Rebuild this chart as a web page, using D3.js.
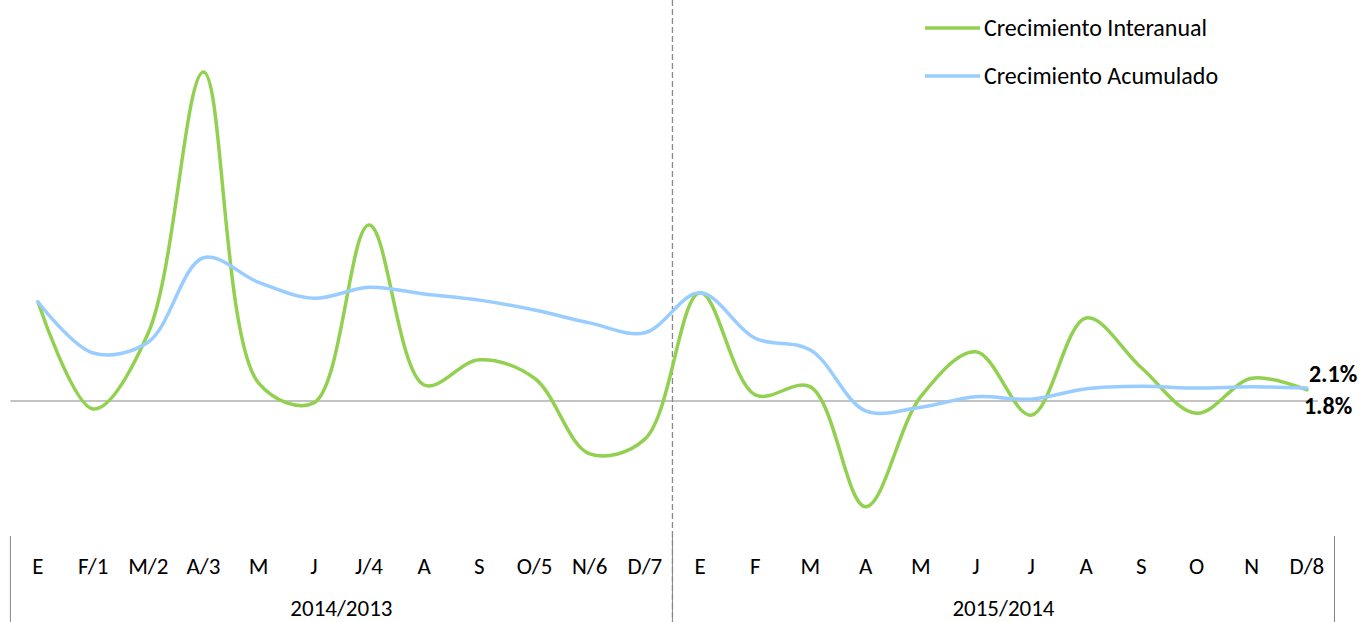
<!DOCTYPE html>
<html>
<head>
<meta charset="utf-8">
<script src="https://cdn.jsdelivr.net/npm/d3@7"></script>
<style>
    body { margin: 0; background: #fff; }
    svg text { font-family: Carlito, "Open Sans", sans-serif; fill: #000; }
</style>
</head>
<body>
<div id="chart"></div>
<script>
// Month labels for the two years
const categories = ["E", "F/1", "M/2", "A/3", "M", "J", "J/4", "A", "S", "O/5", "N/6", "D/7",
                    "E", "F", "M", "A", "M", "J", "J", "A", "S", "O", "N", "D/8"];
const groups = ["2014/2013", "2015/2014"];

// Growth rates (%)
const interanual = [16.1, -1.3, 11.1, 53.5, 2.9, -0.3, 28.6, 2.6, 6.7, 3.7, -8.6, -6.2,
                    17.6, 1.0, 2.3, -17.2, 0.7, 8.0, -2.3, 13.5, 5.4, -2.0, 3.7, 1.8];
const acumulado = [16.1, 7.8, 9.6, 23.3, 19.3, 16.7, 18.5, 17.4, 16.4, 14.8, 12.7, 11.1,
                   17.6, 10.2, 8.3, -1.6, -1.0, 0.7, 0.3, 2.0, 2.4, 2.1, 2.3, 2.1];

const seriesNames = ["Crecimiento Interanual", "Crecimiento Acumulado"];
const seriesColors = ["#92D050", "#99CCFF"];

const width = 1359, height = 622;

const svg = d3.select("#chart")
    .append("svg")
    .attr("width", width)
    .attr("height", height);

// Scales
const x = d3.scaleBand()
    .domain(d3.range(categories.length))
    .range([10.4, 1334.5]);
const cx = i => x(i) + x.bandwidth() / 2;

const y = d3.scaleLinear()
    .domain([-20, 60])
    .range([524, 32]);

// Zero line
svg.append("line")
    .attr("x1", 10.4)
    .attr("x2", 1318)
    .attr("y1", y(0))
    .attr("y2", y(0))
    .attr("stroke", "#888")
    .attr("stroke-width", 1.2);

// Year divider (dashed)
const split = x(12);
svg.append("line")
    .attr("x1", split)
    .attr("x2", split)
    .attr("y1", 0)
    .attr("y2", height)
    .attr("stroke", "#888")
    .attr("stroke-width", 1.3)
    .attr("stroke-dasharray", "6,3");

// Group separators under the axis
[x(0), split, x(23) + x.bandwidth()].forEach(px => {
    svg.append("line")
        .attr("x1", px)
        .attr("x2", px)
        .attr("y1", 536)
        .attr("y2", height)
        .attr("stroke", "#888")
        .attr("stroke-width", 1);
});

// Category labels
svg.append("g")
    .selectAll("text")
    .data(categories)
    .join("text")
    .attr("x", (d, i) => cx(i))
    .attr("y", 574)
    .attr("text-anchor", "middle")
    .attr("font-size", 23)
    .text(d => d);

// Group labels
svg.append("g")
    .selectAll("text")
    .data(groups)
    .join("text")
    .attr("x", (d, i) => (x(i * 12) + x(i * 12 + 11) + x.bandwidth()) / 2)
    .attr("y", 616)
    .attr("text-anchor", "middle")
    .attr("font-size", 23)
    .text(d => d);

// Lines (smoothed like the spreadsheet chart)
const line = d3.line()
    .x((d, i) => cx(i))
    .y(d => y(d))
    .curve(d3.curveCatmullRom.alpha(0.5));

[interanual, acumulado].forEach((values, k) => {
    svg.append("path")
        .datum(values)
        .attr("fill", "none")
        .attr("stroke", seriesColors[k])
        .attr("stroke-width", 3.5)
        .attr("stroke-linecap", "round")
        .attr("d", line);
});

// End labels
const last = categories.length - 1;
svg.append("text")
    .attr("x", cx(last) + 2)
    .attr("y", 382)
    .attr("font-size", 24)
    .attr("font-weight", "bold")
    .text(acumulado[last].toFixed(1) + "%");

svg.append("text")
    .attr("x", cx(last) - 3)
    .attr("y", 414)
    .attr("font-size", 24)
    .attr("font-weight", "bold")
    .text(interanual[last].toFixed(1) + "%");

// Legend
const legend = svg.append("g")
    .selectAll("g")
    .data(seriesNames)
    .join("g")
    .attr("transform", (d, i) => `translate(925, ${28 + i * 48})`);

legend.append("line")
    .attr("x1", 0)
    .attr("x2", 55)
    .attr("stroke", (d, i) => seriesColors[i])
    .attr("stroke-width", 3.5);

legend.append("text")
    .attr("x", 59)
    .attr("y", 8)
    .attr("font-size", 24)
    .text(d => d);
</script>
</body>
</html>
